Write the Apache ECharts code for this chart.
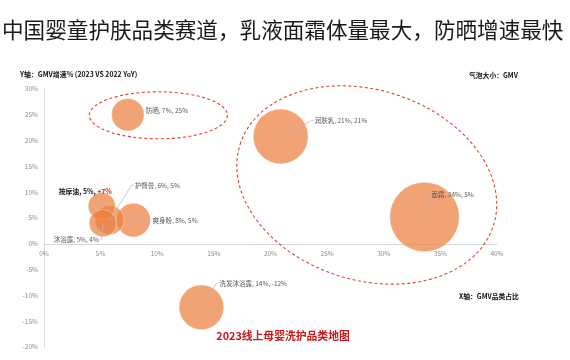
<!DOCTYPE html>
<html><head><meta charset="utf-8">
<script src="https://cdn.jsdelivr.net/npm/echarts@6/dist/echarts.min.js"></script>
<style>html,body{margin:0;padding:0;background:#fff}#c{width:570px;height:360px}</style>
</head><body><div id="c"></div>
<script>
// ---- data ----
const categories = ['防晒', '润肤乳', '面霜', '洗发沐浴露', '爽身粉', '护臀膏', '按摩油', '沐浴露'];
const gmvShare   = [7.4, 20.9, 33.6, 13.9, 7.9, 5.8, 5.1, 5.2];      // X: GMV 品类占比 (%)
const gmvGrowth  = [25.0, 20.8, 5.2, -12.3, 4.6, 4.6, 7.3, 4.0];     // Y: GMV 增速 (%)
const xTicks = { min: 0, max: 40, interval: 5 };
const yTicks = { min: -20, max: 30, interval: 5 };

// ---- label placement (styling, not data) ----
const labelPos = [
  { dx: 18, dy: -4, align: 'left', line: true },
  { dx: 34, dy: -16, align: 'left', line: true },
  { dx: 7, dy: -22, align: 'left', line: true },
  { dx: 18, dy: -24, align: 'left', line: true },
  { dx: 19, dy: 0, align: 'left', line: true },
  { dx: 25, dy: -35, align: 'left', line: true },
  { dx: 10, dy: -15, align: 'right', line: false, special: true },
  { dx: -4, dy: 16, align: 'right', line: true }
];

const FONT = '"Noto Sans CJK SC", "Noto Sans", sans-serif';
const chart = echarts.init(document.getElementById('c'), null, { renderer: 'canvas' });
const pts = categories.map((n, i) => [gmvShare[i], gmvGrowth[i], n, i]);
const fmt = v => Math.round(v) + '%';

const xAxisOpt = {
  type: 'value', min: xTicks.min, max: xTicks.max, interval: xTicks.interval,
  position: 'bottom',
  axisLine: { onZero: false, lineStyle: { color: '#d9d9d9', width: 1 } },
  axisTick: { show: false }, splitLine: { show: false },
  axisLabel: { formatter: '{value}%', color: '#8c8c8c', fontSize: 6.5, fontFamily: FONT, margin: 6 }
};

chart.setOption({
  animation: false,
  backgroundColor: '#fff',
  grid: { left: 44, right: 73, top: 89, bottom: 13 },
  xAxis: xAxisOpt,
  yAxis: {
    type: 'value', min: yTicks.min, max: yTicks.max, interval: yTicks.interval,
    axisLine: { show: true, onZero: false, lineStyle: { color: '#d9d9d9', width: 1 } },
    axisTick: { show: false }, splitLine: { show: false },
    axisLabel: { formatter: '{value}%', color: '#8c8c8c', fontSize: 6.5, fontFamily: FONT, margin: 6 }
  },
  series: [
    {
      type: 'scatter',
      data: pts,
      symbolSize: v => 12 * Math.sqrt(v[0]),
      itemStyle: { color: '#EC7F40', opacity: 0.72, borderColor: '#fff', borderWidth: 0.5 },
      z: 2
    },
    {
      type: 'custom',
      data: pts,
      z: 5,
      renderItem: function (params, api) {
        const i = params.dataIndex;
        const c = api.coord([api.value(0), api.value(1)]);
        const p = labelPos[i];
        const tx = c[0] + p.dx, ty = c[1] + p.dy;
        const children = [];
        if (p.line) {
          let pointsArr;
          if (p.align === 'left') pointsArr = [[c[0], c[1]], [tx - 3, ty], [tx - 1, ty]];
          else pointsArr = [[c[0], c[1]], [tx + 3, ty], [tx + 1, ty]];
          children.push({ type: 'polyline', shape: { points: pointsArr },
            style: { stroke: '#b8b8b8', lineWidth: 0.7, fill: null } });
        }
        if (p.special) {
          children.push({ type: 'text', x: tx, y: ty, style: {
            text: '{b|' + categories[i] + ', ' + fmt(gmvShare[i]) + ', }{r|+' + fmt(gmvGrowth[i]) + '}',
            align: 'right', verticalAlign: 'middle',
            rich: {
              b: { fontFamily: FONT, fontSize: 6.8, fontWeight: 'bold', fill: '#111' },
              r: { fontFamily: FONT, fontSize: 6.8, fontWeight: 'bold', fill: '#e0201b' }
            }
          }});
        } else {
          children.push({ type: 'text', x: tx, y: ty, style: {
            text: categories[i] + ', ' + fmt(gmvShare[i]) + ', ' + fmt(gmvGrowth[i]),
            align: p.align, verticalAlign: 'middle',
            font: '6.5px ' + FONT, fill: '#595959'
          }});
        }
        return { type: 'group', children };
      }
    }
  ]
});

// move the x axis (line + labels) up to the y = 0 line
const zeroPx = chart.convertToPixel({ gridIndex: 0 }, [0, 0])[1];
const bottomPx = chart.convertToPixel({ gridIndex: 0 }, [0, yTicks.min])[1];
const c1 = chart.convertToPixel({ gridIndex: 0 }, [10.1, 24.9]);
const c2 = chart.convertToPixel({ gridIndex: 0 }, [28.5, 11.4]);
const dashStyle = { stroke: '#E2402F', lineWidth: 1.1, lineDash: [3, 2.5], fill: null };

chart.setOption({
  xAxis: { offset: zeroPx - bottomPx },
  graphic: [
    { type: 'text', left: 2, top: 19, style: { text: '中国婴童护肤品类赛道，乳液面霜体量最大，防晒增速最快',
        font: '21.6px ' + FONT, fill: '#1a1a1a' } },
    { type: 'text', left: 20, top: 71, style: { text: 'Y轴：GMV增速% (2023 VS 2022 YoY)',
        font: 'bold 6.9px ' + FONT, fill: '#111' } },
    { type: 'text', left: 469, top: 72, style: { text: '气泡大小：GMV',
        font: 'bold 6.8px ' + FONT, fill: '#111' } },
    { type: 'text', left: 459, top: 293, style: { text: 'X轴：GMV品类占比',
        font: 'bold 6.8px ' + FONT, fill: '#111' } },
    { type: 'text', x: 283, y: 336, style: { text: '2023线上母婴洗护品类地图',
        font: 'bold 10.8px ' + FONT, fill: '#C8161D', align: 'center', verticalAlign: 'middle' } },
    { type: 'ellipse', x: c1[0], y: c1[1], shape: { cx: 0, cy: 0, rx: 69, ry: 23.5 }, style: dashStyle, z: 10 },
    { type: 'ellipse', x: c2[0], y: c2[1], rotation: -0.31, shape: { cx: 0, cy: 0, rx: 133, ry: 95 }, style: dashStyle, z: 10 }
  ]
});
</script>
</body></html>
